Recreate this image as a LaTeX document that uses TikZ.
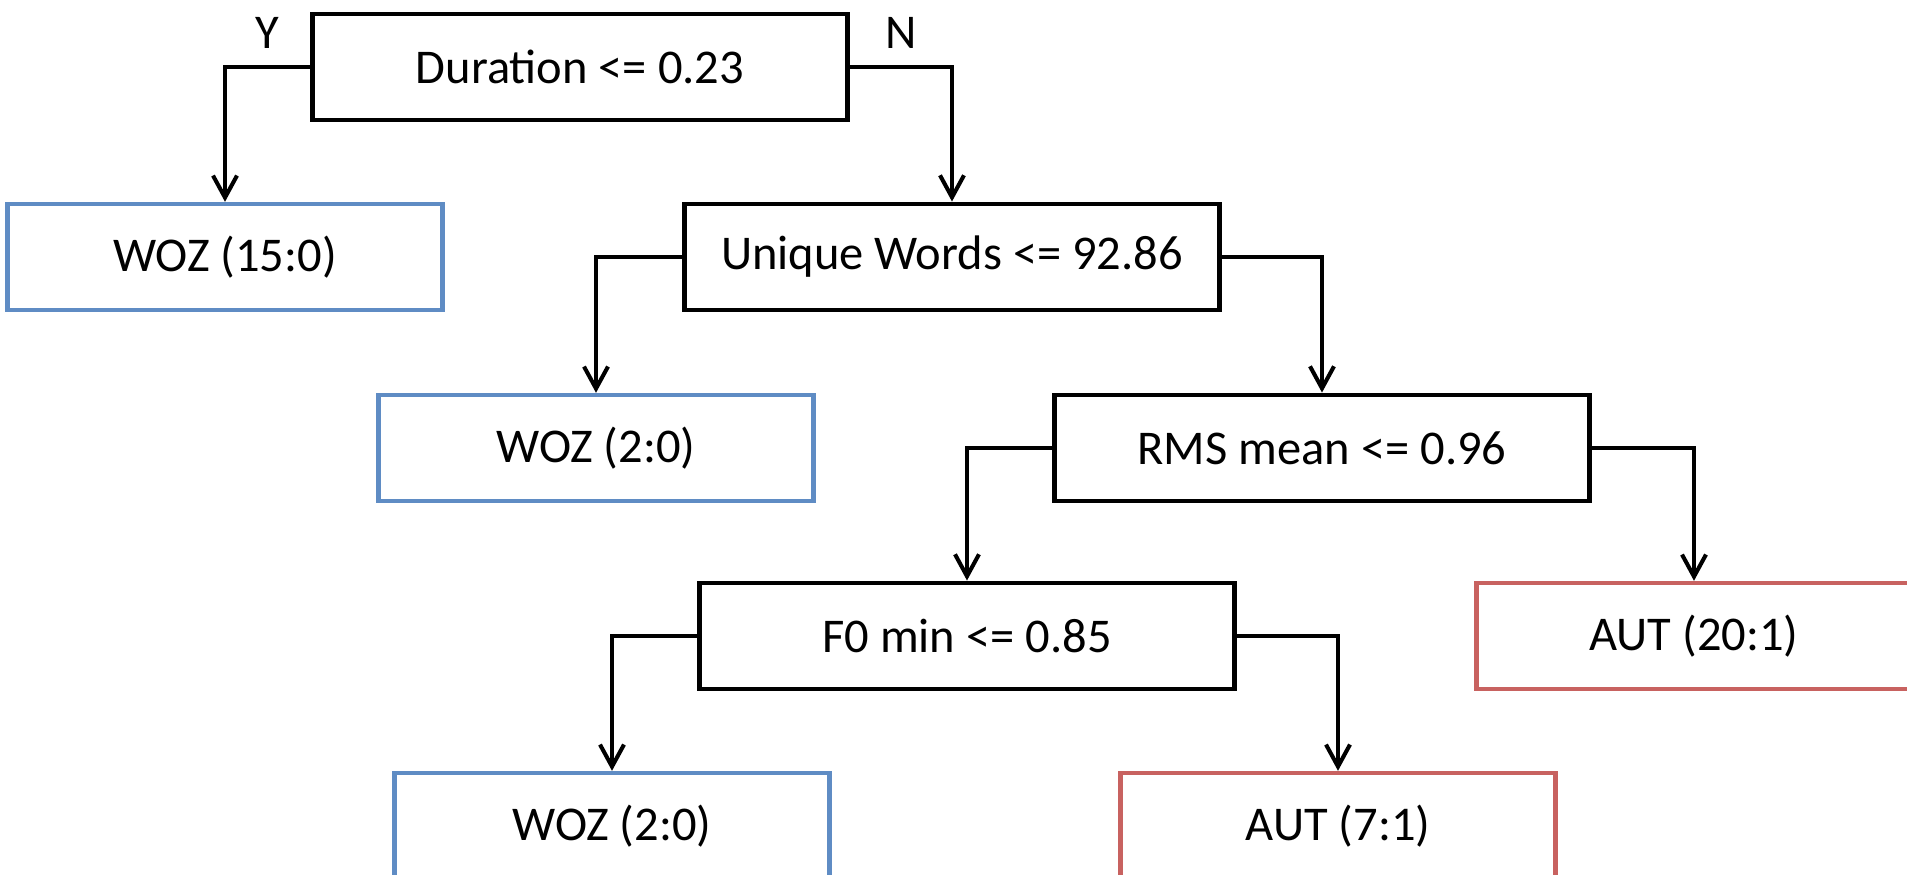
\documentclass[tikz,border=0pt]{standalone}
\usepackage{fontspec}
\setmainfont{Carlito}
\usetikzlibrary{arrows.meta}

\definecolor{wozblue}{RGB}{95,140,196}
\definecolor{autred}{RGB}{200,98,96}

\begin{document}
\begin{tikzpicture}

\tikzset{
  splitbox/.style={
    draw=black,
    line width=1.4pt,
    minimum width=5.35cm,
    minimum height=1.06cm,
    font=\fontsize{13.8}{16}\selectfont
  },
  wozleaf/.style={
    draw=wozblue,
    line width=1.25pt,
    minimum width=4.35cm,
    minimum height=1.06cm,
    font=\fontsize{13.8}{16}\selectfont
  },
  autleaf/.style={
    draw=autred,
    line width=1.25pt,
    minimum width=4.35cm,
    minimum height=1.06cm,
    font=\fontsize{13.8}{16}\selectfont
  },
  branch/.style={
    line width=1.15pt,
    -{Straight Barb[length=2.2mm,width=2.4mm]}
  },
  yesno/.style={
    above=0.05cm,
    font=\fontsize{13.8}{16}\selectfont
  }
}

% Frame of the picture
\clip (0,0) rectangle (19.07,8.75);

%%%%%%%%%%%%%%%%%%%%%%%%%%%%%%%%%%%%%%%%%%%%%%%%%%%%%%%%%%%%
%% Split nodes
%%%%%%%%%%%%%%%%%%%%%%%%%%%%%%%%%%%%%%%%%%%%%%%%%%%%%%%%%%%%
\node[splitbox] (dur) at (5.80,8.08) {Duration <= 0.23};
\node[splitbox] (uniq) at (9.52,6.18) {Unique Words <= 92.86};
\node[splitbox] (rms) at (13.22,4.27) {RMS mean <= 0.96};
\node[splitbox] (fzero) at (9.67,2.39) {F0 min <= 0.85};

%%%%%%%%%%%%%%%%%%%%%%%%%%%%%%%%%%%%%%%%%%%%%%%%%%%%%%%%%%%%
%% Leaf nodes
%%%%%%%%%%%%%%%%%%%%%%%%%%%%%%%%%%%%%%%%%%%%%%%%%%%%%%%%%%%%
\node[wozleaf] (wozA) at (2.25,6.18) {WOZ (15:0)};
\node[wozleaf] (wozB) at (5.96,4.27) {WOZ (2:0)};
\node[autleaf] (autA) at (16.94,2.39) {AUT (20:1)};
\node[wozleaf] (wozC) at (6.12,0.49) {WOZ (2:0)};
\node[autleaf] (autB) at (13.38,0.49) {AUT (7:1)};

%%%%%%%%%%%%%%%%%%%%%%%%%%%%%%%%%%%%%%%%%%%%%%%%%%%%%%%%%%%%
%% Branches
%%%%%%%%%%%%%%%%%%%%%%%%%%%%%%%%%%%%%%%%%%%%%%%%%%%%%%%%%%%%
\draw[branch] (dur.west) -| node[yesno, pos=0.25] (yes) {Y} (wozA.north);
\draw[branch] (dur.east) -| node[yesno, pos=0.25] (no) {N} (uniq.north);

\draw[branch] (uniq.west) -| (wozB.north);
\draw[branch] (uniq.east) -| (rms.north);

\draw[branch] (rms.west) -| (fzero.north);
\draw[branch] (rms.east) -| (autA.north);

\draw[branch] (fzero.west) -| (wozC.north);
\draw[branch] (fzero.east) -| (autB.north);

\end{tikzpicture}
\end{document}
